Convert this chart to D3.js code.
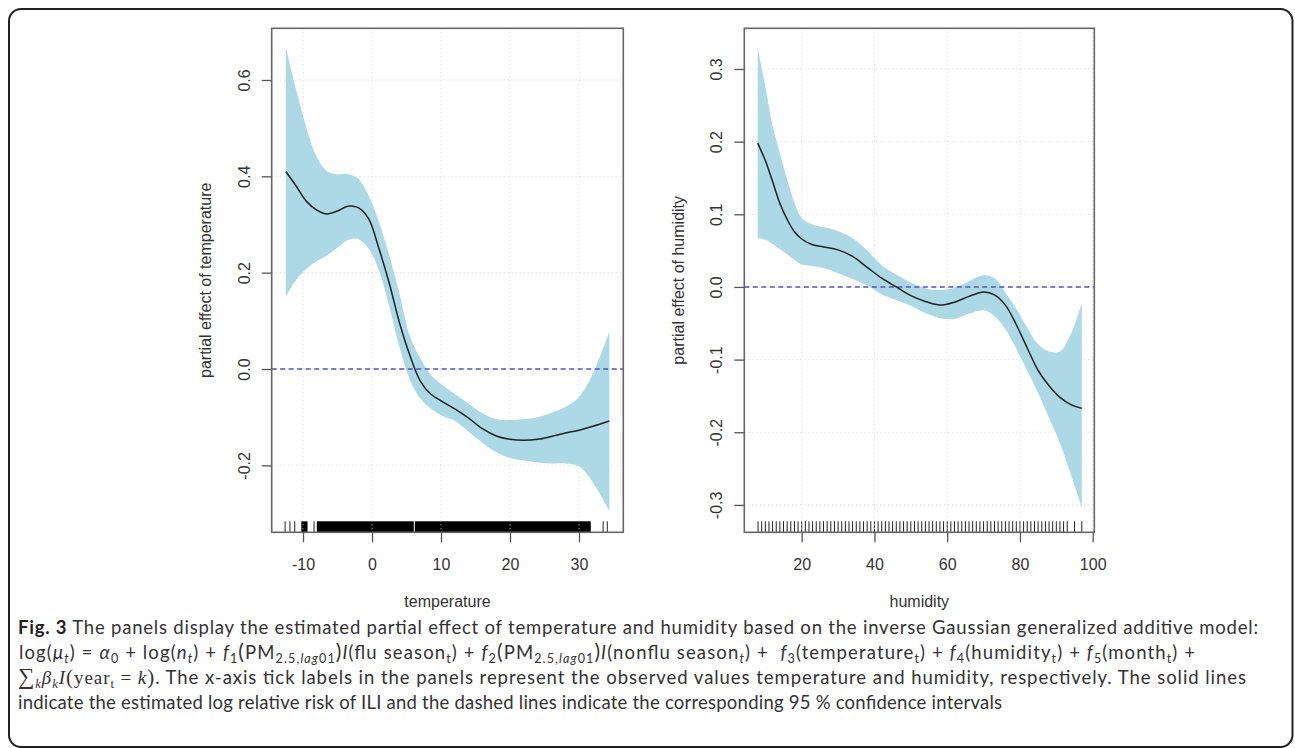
<!DOCTYPE html>
<html>
<head>
<meta charset="utf-8">
<script src="https://cdn.jsdelivr.net/npm/d3@7"></script>
<style>
  body { margin: 0; background: #fff; }
  svg { display: block; }
  text { white-space: pre; }
</style>
</head>
<body>
<div id="chart"></div>
<script>
// ---- temperature panel ----
const tempX   = [-12.5, -11, -9.5, -8, -6.5, -5, -3.5, -2, -0.5, 1, 2.5, 4, 5.5, 7, 8.5, 10, 12, 14, 16, 18, 20, 22, 24, 26, 28, 30, 32, 34.4];
const tempFit = [0.41, 0.38, 0.348, 0.330, 0.322, 0.328, 0.338, 0.335, 0.312, 0.250, 0.178, 0.095, 0.028, -0.025, -0.052, -0.066, -0.083, -0.102, -0.124, -0.139, -0.146, -0.148, -0.146, -0.140, -0.133, -0.127, -0.119, -0.108];
const tempHi  = [0.669, 0.58, 0.50, 0.44, 0.410, 0.404, 0.405, 0.395, 0.36, 0.305, 0.235, 0.155, 0.067, 0.022, -0.012, -0.031, -0.052, -0.072, -0.092, -0.104, -0.106, -0.104, -0.100, -0.091, -0.079, -0.058, -0.010, 0.078];
const tempLo  = [0.150, 0.185, 0.208, 0.224, 0.236, 0.252, 0.268, 0.270, 0.250, 0.205, 0.130, 0.045, -0.023, -0.062, -0.082, -0.096, -0.108, -0.130, -0.153, -0.173, -0.185, -0.190, -0.194, -0.196, -0.196, -0.202, -0.235, -0.295];
const tempRug = [-12.6, -11.9, -11.2, -8.4, 33.5, 34.1];
const tempRugBlocks = [[-10.25, -9.35], [-8.0, 6.05], [6.2, 31.7]];
const tempXTicks = [-10, 0, 10, 20, 30];
const tempYTicks = [-0.2, 0.0, 0.2, 0.4, 0.6];

// ---- humidity panel ----
const humX   = [7.9, 10, 12, 14, 16, 18, 20, 23, 26, 30, 34, 38, 42, 46, 50, 54, 58, 62, 66, 70, 73, 76, 79, 82, 85, 88, 91, 94, 97];
const humFit = [0.198, 0.174, 0.145, 0.115, 0.093, 0.076, 0.066, 0.058, 0.055, 0.051, 0.042, 0.027, 0.012, 0.0, -0.012, -0.020, -0.025, -0.021, -0.013, -0.007, -0.011, -0.025, -0.052, -0.084, -0.115, -0.136, -0.152, -0.162, -0.167];
const humHi  = [0.330, 0.276, 0.222, 0.184, 0.148, 0.116, 0.095, 0.086, 0.082, 0.077, 0.067, 0.050, 0.030, 0.017, 0.006, -0.002, -0.004, -0.001, 0.008, 0.016, 0.012, -0.008, -0.030, -0.056, -0.079, -0.089, -0.089, -0.065, -0.022];
const humLo  = [0.067, 0.065, 0.059, 0.052, 0.045, 0.037, 0.031, 0.029, 0.026, 0.019, 0.011, 0.002, -0.010, -0.018, -0.026, -0.036, -0.043, -0.044, -0.037, -0.032, -0.040, -0.058, -0.085, -0.115, -0.146, -0.180, -0.215, -0.258, -0.303];
const humRug = [8, 9, 10, 11, 12, 13, 14, 15, 16, 17, 18, 19, 20, 21, 22, 23, 24, 25, 26, 27, 28, 29, 30,
  31, 32, 33, 34, 35, 36, 37, 38, 39, 40, 41, 42, 43, 44, 45, 46, 47, 48, 49, 50, 51, 52, 53, 54, 55,
  56, 57, 58, 59, 60, 61, 62, 63, 64, 65, 66, 67, 68, 69, 70, 71, 72, 73, 74, 75, 76, 77, 78, 79, 80,
  81, 82, 83, 84, 85, 86, 87, 88, 89, 90, 91, 92, 93, 95, 97];
const humXTicks = [20, 40, 60, 80, 100];
const humYTicks = [-0.3, -0.2, -0.1, 0.0, 0.1, 0.2, 0.3];

const svg = d3.select("#chart").append("svg")
    .attr("width", 1295)
    .attr("height", 748);

// outer frame
svg.append("rect")
    .attr("x", 9).attr("y", 9)
    .attr("width", 1283.5).attr("height", 738)
    .attr("rx", 12)
    .attr("fill", "none")
    .attr("stroke", "#222")
    .attr("stroke-width", 2);

const FONT = "'Liberation Sans', Arial, sans-serif";

function drawPanel(p) {
    const x = d3.scaleLinear().domain(p.xDomain).range([p.left, p.right]);
    const y = d3.scaleLinear().domain(p.yDomain).range([p.bottom, p.top]);
    const g = svg.append("g");

    // rug
    g.selectAll("line.rug").data(p.rug).enter().append("line")
        .attr("x1", d => x(d)).attr("x2", d => x(d))
        .attr("y1", p.bottom).attr("y2", p.bottom - 11)
        .attr("stroke", "#222").attr("stroke-width", 1);
    g.selectAll("rect.rug").data(p.rugBlocks).enter().append("rect")
        .attr("x", d => x(d[0])).attr("width", d => x(d[1]) - x(d[0]))
        .attr("y", p.bottom - 11).attr("height", 11)
        .attr("fill", "#000");

    // grid
    g.selectAll("line.gx").data(p.xTicks).enter().append("line")
        .attr("x1", d => x(d)).attr("x2", d => x(d))
        .attr("y1", p.top).attr("y2", p.bottom)
        .attr("stroke", "#d3d3d3").attr("stroke-dasharray", "1,3");
    g.selectAll("line.gy").data(p.yTicks).enter().append("line")
        .attr("x1", p.left).attr("x2", p.right)
        .attr("y1", d => y(d)).attr("y2", d => y(d))
        .attr("stroke", "#d3d3d3").attr("stroke-dasharray", "1,3");

    // confidence band
    const idx = p.xs.map((_, i) => i);
    const area = d3.area()
        .x(i => x(p.xs[i]))
        .y0(i => y(p.lo[i]))
        .y1(i => y(p.hi[i]))
        .curve(d3.curveCatmullRom);
    g.append("path").attr("d", area(idx)).attr("fill", "#add8e6");

    // zero line
    g.append("line")
        .attr("x1", p.left).attr("x2", p.right)
        .attr("y1", y(0)).attr("y2", y(0))
        .attr("stroke", "#5353c9").attr("stroke-width", 1.4)
        .attr("stroke-dasharray", "5,3.5");

    // fit
    const line = d3.line()
        .x(i => x(p.xs[i]))
        .y(i => y(p.fit[i]))
        .curve(d3.curveCatmullRom);
    g.append("path").attr("d", line(idx))
        .attr("fill", "none").attr("stroke", "#1e2328").attr("stroke-width", 1.5);

    // box
    g.append("rect")
        .attr("x", p.left).attr("y", p.top)
        .attr("width", p.right - p.left).attr("height", p.bottom - p.top)
        .attr("fill", "none").attr("stroke", "#666").attr("stroke-width", 1.6);

    // axes
    g.append("g")
        .attr("transform", `translate(0,${p.bottom})`)
        .call(d3.axisBottom(x).tickValues(p.xTicks).tickSize(10).tickFormat(d => String(d)))
        .call(a => a.select(".domain").remove())
        .call(a => a.selectAll("line").attr("stroke", "#555").attr("stroke-width", 1.3))
        .call(a => a.selectAll("text")
            .attr("y", 570 - p.bottom).attr("dy", 0)
            .attr("font-family", FONT).attr("font-size", 16).attr("fill", "#333"));

    g.append("g")
        .attr("transform", `translate(${p.left},0)`)
        .call(d3.axisLeft(y).tickValues(p.yTicks).tickSize(10).tickFormat(d => d.toFixed(1)))
        .call(a => a.select(".domain").remove())
        .call(a => a.selectAll("line").attr("stroke", "#555").attr("stroke-width", 1.3))
        .call(a => a.selectAll("text")
            .attr("transform", "rotate(-90)")
            .attr("x", 0).attr("y", -22).attr("dy", 0)
            .attr("text-anchor", "middle")
            .attr("font-family", FONT).attr("font-size", 16).attr("fill", "#333"));

    // titles
    g.append("text")
        .attr("x", (p.left + p.right) / 2).attr("y", 607)
        .attr("text-anchor", "middle")
        .attr("font-family", FONT).attr("font-size", 16).attr("fill", "#333")
        .text(p.xTitle);
    g.append("text")
        .attr("transform", `translate(${p.yTitleX},${(p.top + p.bottom) / 2}) rotate(-90)`)
        .attr("text-anchor", "middle")
        .attr("font-family", FONT).attr("font-size", 16).attr("fill", "#333")
        .text(p.yTitle);
}

drawPanel({
    left: 271.7, right: 623.3, top: 28.3, bottom: 532.3,
    xDomain: [-14.54, 36.42], yDomain: [-0.339, 0.7073],
    xs: tempX, fit: tempFit, hi: tempHi, lo: tempLo,
    rug: tempRug, rugBlocks: tempRugBlocks,
    xTicks: tempXTicks, yTicks: tempYTicks,
    xTitle: "temperature", yTitle: "partial effect of temperature", yTitleX: 211
});

drawPanel({
    left: 744.3, right: 1094.3, top: 28.3, bottom: 532.3,
    xDomain: [4.22, 100.44], yDomain: [-0.3377, 0.356],
    xs: humX, fit: humFit, hi: humHi, lo: humLo,
    rug: humRug, rugBlocks: [],
    xTicks: humXTicks, yTicks: humYTicks,
    xTitle: "humidity", yTitle: "partial effect of humidity", yTitleX: 684
});

// ---- caption ----
// flags: b bold, i italic, _ subscript, s serif, L large
const capLine1 = [["Fig. 3", "b"], [" The panels display the estimated partial effect of temperature and humidity based on the inverse Gaussian generalized additive model:", ""]];
const capLine2 = [
    ["log(", ""], ["μ", "i"], ["t", "i_"], [") = ", ""], ["α", "i"], ["0", "_"], [" + log(", ""], ["n", "i"], ["t", "i_"], [") + ", ""],
    ["f", "i"], ["1", "_"], ["(", "L"], ["PM", ""], ["2.5,", "_"], ["lag", "i_"], ["01", "_"], [")", "L"], ["I", "i"], ["(flu season", ""], ["t", "_"], [") + ", ""],
    ["f", "i"], ["2", "_"], ["(", "L"], ["PM", ""], ["2.5,", "_"], ["lag", "i_"], ["01", "_"], [")", "L"], ["I", "i"], ["(nonflu season", ""], ["t", "i_"], [") +  ", ""],
    ["f", "i"], ["3", "_"], ["(temperature", ""], ["t", "_"], [") + ", ""], ["f", "i"], ["4", "_"], ["(humidity", ""], ["t", "_"], [") + ", ""],
    ["f", "i"], ["5", "_"], ["(month", ""], ["t", "_"], [") +", ""]
];
const capLine3 = [
    ["∑", "sL"], ["k", "si_"], ["β", "si"], ["k", "si_"], ["I", "si"], ["(", "sL"], ["year", "s"], ["t", "s_"], [" = ", "s"], ["k", "si"], [")", "sL"],
    [". The x-axis tick labels in the panels represent the observed values temperature and humidity, respectively. The solid lines", ""]
];
const capLine4 = [["indicate the estimated log relative risk of ILI and the dashed lines indicate the corresponding 95 % confidence intervals", ""]];

function caption(segs, yBase, x0, x1) {
    const t = svg.append("text")
        .attr("x", x0).attr("y", yBase)
        .attr("font-family", "Lato, 'Open Sans', sans-serif")
        .attr("font-size", 18.5)
        .attr("fill", "#333")
        .attr("textLength", x1 - x0)
        .attr("lengthAdjust", "spacing");
    let shift = 0;
    segs.forEach(([s, f]) => {
        const ts = t.append("tspan").text(s);
        const target = f.includes("_") ? 4 : 0;
        if (target !== shift) ts.attr("dy", target - shift);
        shift = target;
        if (f.includes("_")) ts.attr("font-size", 12.5);
        if (f.includes("i")) ts.attr("font-style", "italic");
        if (f.includes("b")) ts.attr("font-weight", "bold").attr("fill", "#222");
        if (f.includes("s")) ts.attr("font-family", "'Liberation Serif', 'DejaVu Serif', serif").attr("font-size", f.includes("_") ? 12.5 : 19);
        if (f.includes("L")) ts.attr("font-size", s === "∑" ? 23 : 21);
    });
}

caption(capLine1, 634, 18, 1258);
caption(capLine2, 659, 19, 1195);
caption(capLine3, 684, 18, 1246);
caption(capLine4, 709, 18, 1002);
</script>
</body>
</html>
